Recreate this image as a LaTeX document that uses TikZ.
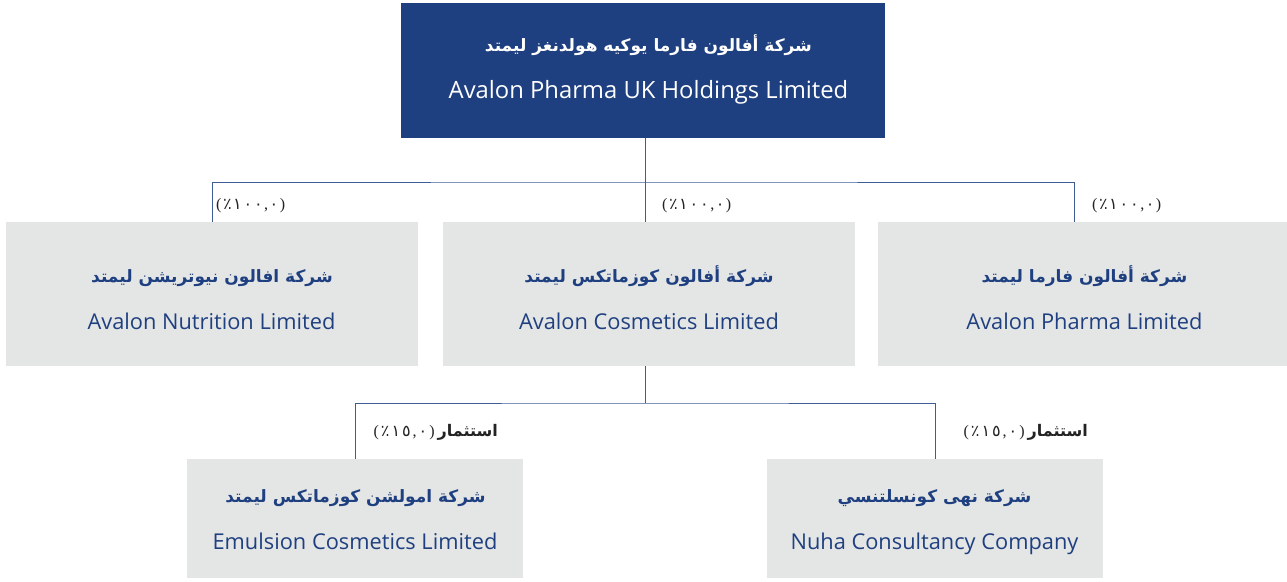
\documentclass[tikz,border=0pt]{standalone}
\usepackage{fontspec}
\setmainfont{Open Sans}
\newfontfamily\arabicfont[Script=Arabic]{DejaVu Sans}
\newfontfamily\digitfont[Script=Arabic,LetterSpace=12]{DejaVu Sans}
\newfontfamily\parenfont{Liberation Serif}
\TeXXeTstate=1
\definecolor{navy}{RGB}{31,64,128}
\definecolor{boxgray}{RGB}{228,229,229}
\definecolor{linec}{RGB}{62,92,150}
\definecolor{lbl}{RGB}{35,35,35}
\newcommand\pctlabel[3]{\hbox{\parenfont(}\hspace{#3}\hbox{٪}\hspace{#3}\hbox{#1}\hspace{#3}\hbox{\parenfont,}\hspace{#3}\hbox{#2}\hspace{#3}\hbox{\parenfont)}}
\begin{document}
\begin{tikzpicture}[x=1pt,y=-1pt,
  topbox/.style={fill=navy,draw=none,minimum width=484pt,minimum height=135pt,inner sep=0pt},
  gbox/.style={fill=boxgray,draw=none,minimum height=144pt,inner sep=0pt},
  sbox/.style={fill=boxgray,draw=none,minimum width=336pt,minimum height=119pt,inner sep=0pt},
  artxt/.style={anchor=base,inner sep=0pt,text=navy,font=\arabicfont\bfseries\fontsize{17}{20}\selectfont},
  entxt/.style={anchor=base,inner sep=0pt,text=navy,font=\fontsize{21.8}{26}\selectfont},
  pct/.style={inner sep=0pt,text=lbl,font=\digitfont\fontsize{16}{19}\selectfont},
  conn/.style={draw=linec,line width=1pt}]
\useasboundingbox (0,0) rectangle (1287,581);
\fill[white] (0,0) rectangle (1287,581);
% boxes
\node[topbox] (uk) at (643,70.5) {};
\node[gbox,minimum width=412pt] (nut) at (212,294) {};
\node[gbox,minimum width=412pt] (cos) at (649,294) {};
\node[gbox,minimum width=409pt] (pha) at (1082.5,294) {};
\node[sbox] (emu) at (355,518.5) {};
\node[sbox] (nuh) at (935,518.5) {};
% texts
\node[artxt,text=white] (ukar) at (648.5,51) {\beginR شركة أفالون فارما يوكيه هولدنغز ليمتد\endR};
\node[entxt,text=white,font=\fontsize{23.8}{28}\selectfont] (uken) at (648.5,98) {Avalon Pharma UK Holdings Limited};
\node[artxt] (nutar) at (212,282) {\beginR شركة افالون نيوتريشن ليمتد\endR};
\node[entxt] (nuten) at (211.5,329) {Avalon Nutrition Limited};
\node[artxt] (cosar) at (649,282) {\beginR شركة أفالون كوزماتكس ليمتد\endR};
\node[entxt] (cosen) at (649,329) {Avalon Cosmetics Limited};
\node[artxt] (phaar) at (1084.5,282) {\beginR شركة أفالون فارما ليمتد\endR};
\node[entxt] (phaen) at (1084.5,329) {Avalon Pharma Limited};
\node[artxt] (emuar) at (355.5,502) {\beginR شركة امولشن كوزماتكس ليمتد\endR};
\node[entxt] (emuen) at (355,549) {Emulsion Cosmetics Limited};
\node[artxt] (nuhar) at (934.5,502) {\beginR شركة نهى كونسلتنسي\endR};
\node[entxt] (nuhen) at (934.5,549) {Nuha Consultancy Company};
% connectors
\coordinate (b1) at (645,182);
\coordinate (b2) at (645,403);
\coordinate (d3) at (1074,222);
\draw[conn] (uk.south -| b1) -- (b1);
\draw[conn] (nut.north) |- (b1) -| (d3);
\draw[conn] (b1) -- (cos.north -| b1);
\draw[conn] (cos.south -| b2) -- (b2);
\draw[conn] (emu.north) |- (b2) -| (nuh.north);
% ownership labels
\node[pct,anchor=west] (p1) at (216,206) {\pctlabel{١٠٠}{٠}{1.5pt}};
\node[pct,anchor=west] (p2) at (662,206) {\pctlabel{١٠٠}{٠}{1.5pt}};
\node[pct,anchor=west] (p3) at (1092,206) {\pctlabel{١٠٠}{٠}{1.5pt}};
\node[pct,anchor=east] (p4) at (498,432) {\pctlabel{١٥}{٠}{2pt}\hspace{3pt}{\arabicfont\bfseries\beginR استثمار\endR}};
\node[pct,anchor=east] (p5) at (1088,432) {\pctlabel{١٥}{٠}{2pt}\hspace{3pt}{\arabicfont\bfseries\beginR استثمار\endR}};
\end{tikzpicture}
\end{document}
